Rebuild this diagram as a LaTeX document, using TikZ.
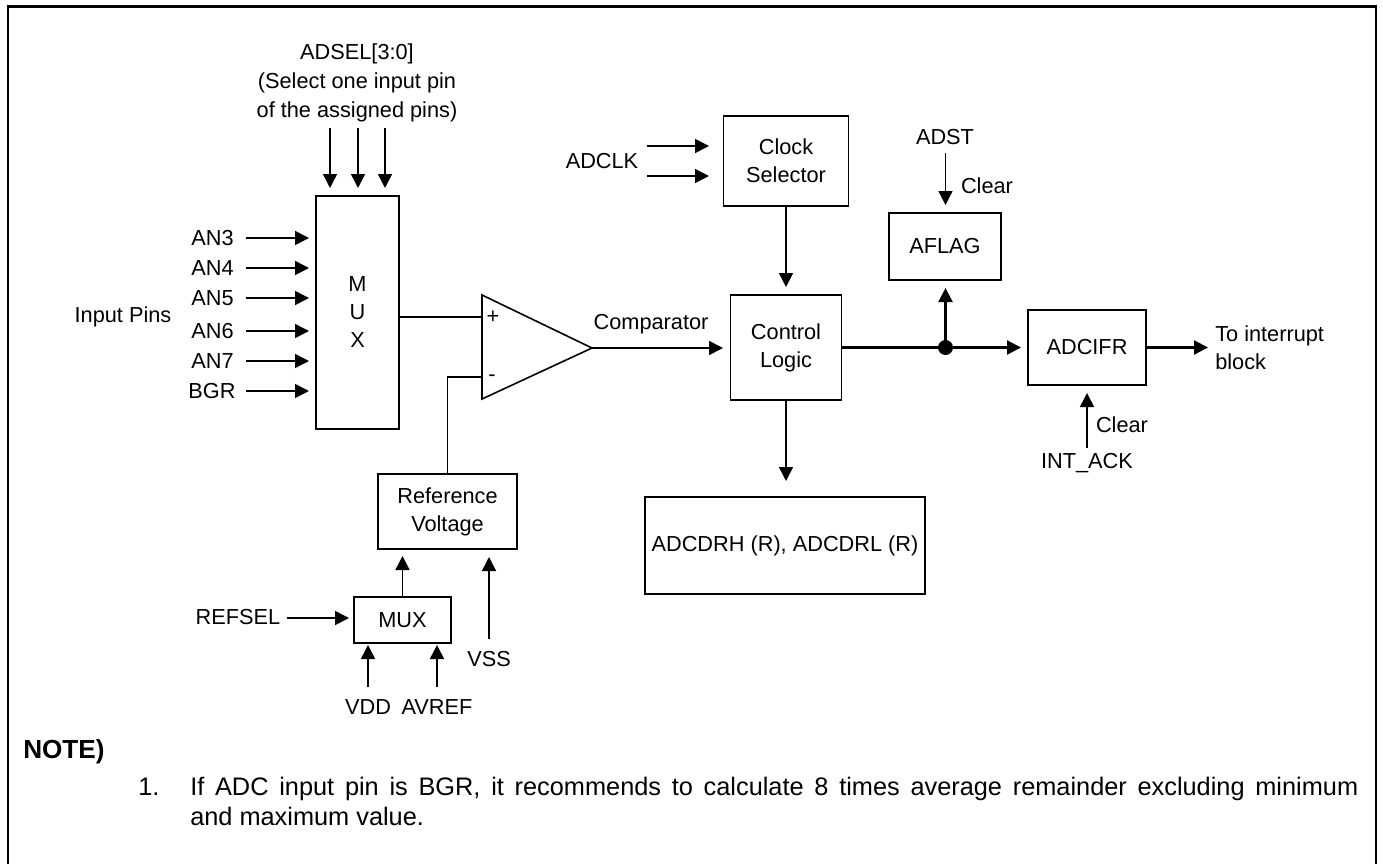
\documentclass[tikz,border=0pt]{standalone}
\usepackage{fontspec}
\setmainfont{Liberation Sans}
\usetikzlibrary{arrows.meta}
\newcommand{\fsz}{\fontsize{16.3pt}{21pt}\selectfont}
\newcommand{\fnote}{\fontsize{19pt}{22.5pt}\selectfont}
\tikzset{
  box/.style={draw,line width=1.2pt,inner sep=0pt,align=center,font=\fsz},
  lbl/.style={inner sep=0pt,align=center,font=\fsz},
  sig/.style={line width=1.2pt,-{Triangle[length=10.5pt,width=10.5pt]}},
  wire/.style={line width=1.2pt},
  edge frame/.style={line width=1.6pt,line join=miter},
}
\newcommand{\boxat}[5]{\node[box,minimum width=#4*0.75pt,minimum height=#5*0.75pt] (#1) at (#2,#3)}
\begin{document}
\begin{tikzpicture}[x=0.75pt,y=-0.75pt]
\useasboundingbox (0,0) rectangle (1383,863);
\coordinate (fa) at (7.7,870);
\coordinate (fb) at (7.7,6.5);
\coordinate (fc) at (1376,6.5);
\coordinate (fd) at (1376,870);
\draw[edge frame] (fa) -- (fb) -- (fc) -- (fd);

% boxes
\boxat{muxa}{357.5}{312.5}{83}{233}{M\\U\\X};
\boxat{clk}{786}{161}{125}{90}{Clock\\Selector};
\boxat{ctl}{786}{347.5}{111}{105}{Control\\Logic};
\boxat{afl}{945}{246.5}{112}{67}{AFLAG};
\boxat{ifr}{1087}{347.5}{118}{75}{ADCIFR};
\boxat{adc}{785}{545.5}{280}{97}{ADCDRH (R), ADCDRL (R)};
\boxat{ref}{447.5}{511.5}{139}{75}{Reference\\Voltage};
\boxat{muxb}{402.5}{620}{97}{46}{MUX};

% comparator
\draw[wire,line join=miter] (482,295) -- (592,348) -- (482,399) -- cycle;
\coordinate (cmpout) at (592,348);
\coordinate (cmpp) at (482,317);
\coordinate (cmpm) at (482,377);
\node[lbl] (plus) at (493,317) {+};
\node[lbl] (minus) at (492,378) {-};

% labels
\node[lbl] (adsel) at (357,83) {ADSEL[3:0]\\[0.75pt](Select one input pin\\[0.75pt]of the assigned pins)};
\node[lbl] (an3) at (212.5,238) {AN3};
\node[lbl] (an4) at (212.5,268) {AN4};
\node[lbl] (an5) at (212.5,298) {AN5};
\node[lbl] (an6) at (212.5,331) {AN6};
\node[lbl] (an7) at (212.5,361) {AN7};
\node[lbl] (bgr) at (212,391) {BGR};
\node[lbl] (pins) at (123,317) {Input Pins};
\node[lbl] (adclk) at (602,161) {ADCLK};
\node[lbl] (comp) at (651,324) {Comparator};
\node[lbl] (adst) at (945,137) {ADST};
\node[lbl] (clra) at (987,186) {Clear};
\node[lbl] (clrb) at (1122,425) {Clear};
\node[lbl] (iack) at (1087,463) {INT\_ACK};
\node[lbl,align=left,anchor=west] (toint) at (1215,347.5) {To interrupt\\block};
\node[lbl] (refsel) at (238,617) {REFSEL};
\node[lbl] (vdd) at (368,707) {VDD};
\node[lbl] (avref) at (437,707) {AVREF};
\node[lbl] (vss) at (489,659) {VSS};

% free ends
\foreach \n/\x in {a/330,b/358,c/385}{
  \coordinate (s\n) at (\x,128);
  \coordinate (t\n) at (\x,188);
  \draw[sig] (s\n) -- (t\n);
}
\foreach \n/\y in {3/238,4/268,5/298,6/331,7/361,8/391}{
  \coordinate (sa\n) at (246,\y);
  \coordinate (ta\n) at (309,\y);
  \draw[sig] (sa\n) -- (ta\n);
}
\coordinate (cka) at (647,146); \coordinate (ckat) at (709,146);
\coordinate (ckb) at (647,176); \coordinate (ckbt) at (709,176);
\draw[sig] (cka) -- (ckat);
\draw[sig] (ckb) -- (ckbt);

\draw[wire] (muxa.east |- cmpp) -- (cmpp);
\draw[wire] (cmpm) -- (ref.north |- cmpm) -- (ref.north);
\coordinate (ctlt) at (786,287);
\draw[sig] (clk.south) -- (ctlt);
\coordinate (ctlin) at (723,348);
\draw[sig] (cmpout) -- (ctlin);
\coordinate (adct) at (786,481);
\draw[sig] (ctl.south) -- (adct);
\coordinate (ifrin) at (1021,347.5);
\coordinate (dot) at (945.5,347.5);
\draw[sig,line width=1.7pt] (ctl.east) -- (ifrin);
\fill (dot) circle[radius=7.5];
\coordinate (aflt) at (945.5,288);
\draw[sig,line width=1.6pt] (dot) -- (aflt);
\coordinate (ads) at (945.5,153); \coordinate (adt) at (945.5,205);
\draw[sig] (ads) -- (adt);
\coordinate (iouts) at (1208,347.5);
\draw[sig,line width=1.7pt] (ifr.east) -- (iouts);
\coordinate (ias) at (1087,448); \coordinate (iat) at (1087,393);
\draw[sig] (ias) -- (iat);
\coordinate (rs) at (287,618); \coordinate (rt) at (349,618);
\draw[sig] (rs) -- (rt);
\coordinate (mt) at (402.5,556);
\draw[sig] (muxb.north) -- (mt);
\coordinate (vss1) at (489,639); \coordinate (vss2) at (489,557);
\draw[sig] (vss1) -- (vss2);
\coordinate (vd1) at (368,687); \coordinate (vd2) at (368,645);
\draw[sig] (vd1) -- (vd2);
\coordinate (av1) at (437,687); \coordinate (av2) at (437,645);
\draw[sig] (av1) -- (av2);

% note
\node[anchor=base west,inner sep=0pt,font=\fontsize{19.6pt}{22.5pt}\selectfont\bfseries] (note) at (23,758) {NOTE)};
\node[anchor=base west,inner sep=0pt,font=\fnote] (n1) at (138,795) {1.};
\node[anchor=base west,inner sep=0pt,font=\fnote,text width=1168*0.75pt,align=justify] (n2) at (190,795) {If ADC input pin is BGR, it recommends to calculate 8 times average remainder excluding minimum\linebreak and maximum value.};
\end{tikzpicture}
\end{document}
